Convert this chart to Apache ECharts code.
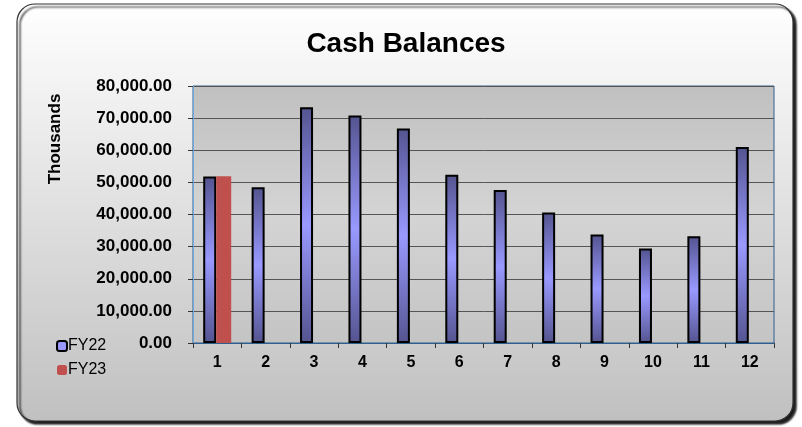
<!DOCTYPE html>
<html>
<head>
<meta charset="utf-8">
<script src="https://cdn.jsdelivr.net/npm/echarts@6/dist/echarts.min.js"></script>
<style>
  html, body { margin: 0; padding: 0; background: #fff; }
  #chart { width: 802px; height: 427px; }
</style>
</head>
<body>
<div id="chart"></div>
<script>
// months of the fiscal year
var months = ['1', '2', '3', '4', '5', '6', '7', '8', '9', '10', '11', '12'];
// cash balances, thousands
var fy22 = [51800, 48500, 73400, 70800, 66800, 52400, 47600, 40600, 33800, 29400, 33200, 61000];
var fy23 = [51900, null, null, null, null, null, null, null, null, null, null, null];

var font = 'Liberation Sans, Arial, sans-serif';

var barFill = new echarts.graphic.LinearGradient(0, 0, 0, 1, [
    { offset: 0, color: '#545490' },
    { offset: 0.5, color: '#9999ff' },
    { offset: 1, color: '#545490' }
]);

var chart = echarts.init(document.getElementById('chart'));
chart.setOption({
    animation: false,
    textStyle: { fontFamily: font },
    graphic: [{
        type: 'rect',
        z: -10,
        shape: { x: 17, y: 4, width: 776, height: 417, r: 18 },
        style: {
            fill: new echarts.graphic.LinearGradient(0, 0, 0, 1, [
                { offset: 0, color: '#ffffff' },
                { offset: 1, color: '#c0c0c0' }
            ]),
            stroke: '#333',
            lineWidth: 1.2,
            shadowColor: 'rgba(0,0,0,0.9)',
            shadowOffsetX: 3,
            shadowOffsetY: 3,
            shadowBlur: 2
        }
    }, {
        type: 'text',
        x: 55,
        y: 139,
        rotation: Math.PI / 2,
        style: {
            text: 'Thousands',
            font: 'bold 17px ' + font,
            fill: '#000',
            align: 'center',
            verticalAlign: 'middle'
        }
    }],
    title: {
        text: 'Cash Balances',
        left: 401,
        textAlign: 'center',
        top: 25,
        textStyle: { fontSize: 28, fontWeight: 'bold', color: '#000', fontFamily: font }
    },
    legend: {
        orient: 'vertical',
        left: 51,
        top: 333,
        itemWidth: 10,
        itemHeight: 10,
        itemGap: 8,
        textStyle: { fontSize: 16, color: '#000', fontFamily: font, padding: [0, 0, 0, -4] },
        data: [
            { name: 'FY22', itemStyle: { color: '#9999ff', borderColor: '#000', borderWidth: 2 } },
            { name: 'FY23', itemStyle: { color: '#c0504d', borderWidth: 0 } }
        ]
    },
    grid: {
        left: 193,
        right: 28,
        top: 86,
        bottom: 84,
        show: true,
        borderColor: '#2f5f8f',
        borderWidth: 1,
        backgroundColor: new echarts.graphic.LinearGradient(0, 0, 0, 1, [
            { offset: 0, color: '#c0c0c0' },
            { offset: 0.5, color: '#d4d4d4' },
            { offset: 1, color: '#c4c4c4' }
        ])
    },
    xAxis: {
        type: 'category',
        data: months,
        axisLine: { lineStyle: { color: '#2f5f8f', width: 1 } },
        axisTick: { show: true, length: 5, lineStyle: { color: '#333' } },
        axisLabel: { fontSize: 16, fontWeight: 'bold', color: '#000', margin: 12, fontFamily: font }
    },
    yAxis: {
        type: 'value',
        min: 0,
        max: 80000,
        interval: 10000,
        axisLine: { show: true, lineStyle: { color: '#6fa8dc' } },
        axisTick: { show: true, length: 5, lineStyle: { color: '#333' } },
        splitLine: { lineStyle: { color: '#555', width: 1 } },
        axisLabel: {
            fontSize: 17,
            fontWeight: 'bold',
            color: '#000',
            margin: 21,
            fontFamily: font,
            formatter: function (v) {
                return v.toLocaleString('en-US', { minimumFractionDigits: 2, maximumFractionDigits: 2 });
            }
        }
    },
    series: [{
        name: 'FY22',
        type: 'bar',
        data: fy22,
        barWidth: 13,
        barGap: '0%',
        itemStyle: { color: barFill, borderColor: '#000', borderWidth: 2 }
    }, {
        name: 'FY23',
        type: 'bar',
        data: fy23,
        barWidth: 15,
        itemStyle: { color: '#c0504d' }
    }]
});
</script>
</body>
</html>
